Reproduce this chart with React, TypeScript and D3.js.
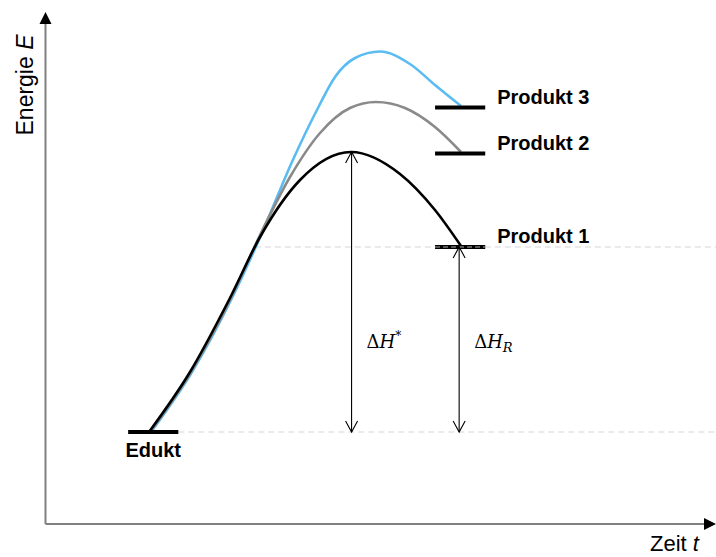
import React from "react";
import * as d3 from "d3";

// ---- data (x: time units, y: energy units) ----
const blackX = [15.76, 21.97, 28.03, 32.58, 38.64, 46.36, 53.79, 59.09, 63.03];
const blackY = [18.2, 30.2, 45.0, 57.2, 68.6, 74.2, 69.8, 62.6, 55.4];
const grayX = [15.91, 22.12, 28.18, 32.58, 37.12, 41.67, 46.21, 50.15, 54.55, 59.09, 63.03];
const grayY = [18.2, 30.2, 45.0, 57.6, 69.2, 78.0, 83.0, 84.2, 83.0, 79.2, 74.2];
const blueX = [16.06, 22.27, 28.33, 32.88, 37.42, 41.36, 43.94, 46.97, 50.76, 55.3, 59.09, 63.03];
const blueY = [18.2, 30.2, 45.0, 58.0, 72.2, 83.0, 89.2, 93.0, 94.3, 91.8, 87.6, 83.4];

const levelNames = ["Edukt", "Produkt 1", "Produkt 2", "Produkt 3"];
const levelEnergy = [18.2, 55.2, 73.9, 83.1];
const levelStart = [12.6, 59.1, 59.1, 59.1];
const levelEnd = [20.2, 66.7, 66.7, 66.7];

const arrowX = [46.45, 62.75];
const arrowTop = [74.2, 55.2];
const arrowBottom = [18.2, 18.2];

const gridEnergy = [18.2, 55.2];
const gridStart = [20.2, 31.8];

const W = 716;
const H = 557;

export default function App() {
  const x = d3.scaleLinear().domain([0, 100]).range([45, 705]);
  const y = d3.scaleLinear().domain([0, 100]).range([523, 23]);

  const mk = (xs: number[], ys: number[]) =>
    d3
      .line<number>()
      .x((_, i) => x(xs[i]))
      .y((_, i) => y(ys[i]))
      .curve(d3.curveMonotoneX)(xs) as string;

  const axisX = x(0) + 0.5;
  const axisY = 524;
  const yTop = 12;

  const arrowHead = (ax: number, y0: number, dir: number) =>
    `M${ax - 6},${y0 + dir * 11} L${ax},${y0} L${ax + 6},${y0 + dir * 11}`;

  return (
    <svg
      width={W}
      height={H}
      style={{ position: "absolute", left: 0, top: 0, background: "#fff" }}
      fontFamily="Liberation Sans, Arial, sans-serif"
    >
      <rect width={W} height={H} fill="#fff" />
      {/* grid dashed lines */}
      {gridEnergy.map((e, i) => (
        <line
          key={i}
          x1={x(gridStart[i])}
          x2={W}
          y1={y(e)}
          y2={y(e)}
          stroke="#d6d6d6"
          strokeWidth={1.2}
          strokeDasharray="6,4"
        />
      ))}
      {/* axes */}
      <line x1={axisX} y1={axisY} x2={axisX} y2={yTop + 10} stroke="#808080" strokeWidth={2} />
      <polygon points={`${axisX - 6},${yTop + 12} ${axisX},${yTop} ${axisX + 6},${yTop + 12}`} fill="#000" />
      <line x1={axisX} y1={axisY} x2={W - 10} y2={axisY} stroke="#808080" strokeWidth={2} />
      <polygon points={`${W - 12},${axisY - 6} ${W},${axisY} ${W - 12},${axisY + 6}`} fill="#000" />

      {/* curves */}
      <path d={mk(blueX, blueY)} fill="none" stroke="#5bbcf2" strokeWidth={2.6} />
      <path d={mk(grayX, grayY)} fill="none" stroke="#8a8a8a" strokeWidth={2.6} />
      <path d={mk(blackX, blackY)} fill="none" stroke="#000" strokeWidth={2.6} />

      {/* energy levels */}
      {levelNames.map((n, i) => (
        <g key={n}>
          <line
            x1={x(levelStart[i])}
            x2={x(levelEnd[i])}
            y1={y(levelEnergy[i])}
            y2={y(levelEnergy[i])}
            stroke="#000"
            strokeWidth={4}
          />
          {i === 1 && (
            <line
              x1={x(levelStart[i])}
              x2={x(levelEnd[i])}
              y1={y(levelEnergy[i])}
              y2={y(levelEnergy[i])}
              stroke="#b0b0b0"
              strokeWidth={1.2}
              strokeDasharray="5,3"
            />
          )}
          {i === 0 ? (
            <text
              x={(x(levelStart[i]) + x(levelEnd[i])) / 2}
              y={y(levelEnergy[i]) + 25}
              textAnchor="middle"
              fontSize={20}
              fontWeight="bold"
            >
              {n}
            </text>
          ) : (
            <text x={x(levelEnd[i]) + 12} y={y(levelEnergy[i]) - 4} fontSize={20} fontWeight="bold">
              {n}
            </text>
          )}
        </g>
      ))}

      {/* delta arrows */}
      {arrowX.map((a, i) => {
        const ax = x(a);
        const t = y(arrowTop[i]);
        const b = y(arrowBottom[i]);
        return (
          <g key={i} stroke="#000" strokeWidth={1.1} fill="none">
            <line x1={ax} x2={ax} y1={t} y2={b} />
            <path d={arrowHead(ax, t, 1)} />
            <path d={arrowHead(ax, b, -1)} />
          </g>
        );
      })}
      <text x={x(arrowX[0]) + 15} y={348} fontFamily="DejaVu Serif, serif" fontSize={18}>
        <tspan>Δ</tspan>
        <tspan fontStyle="italic">H</tspan>
        <tspan fontSize={12} dy={-8}>*</tspan>
      </text>
      <text x={x(arrowX[1]) + 15} y={348} fontFamily="DejaVu Serif, serif" fontSize={18}>
        <tspan>Δ</tspan>
        <tspan fontStyle="italic">H</tspan>
        <tspan fontStyle="italic" fontSize={13} dy={4}>R</tspan>
      </text>

      {/* axis titles */}
      <text transform={`translate(33,85) rotate(-90)`} textAnchor="middle" fontSize={23}>
        Energie <tspan fontStyle="italic">E</tspan>
      </text>
      <text x={650} y={551} fontSize={22}>
        Zeit <tspan fontStyle="italic">t</tspan>
      </text>
    </svg>
  );
}
